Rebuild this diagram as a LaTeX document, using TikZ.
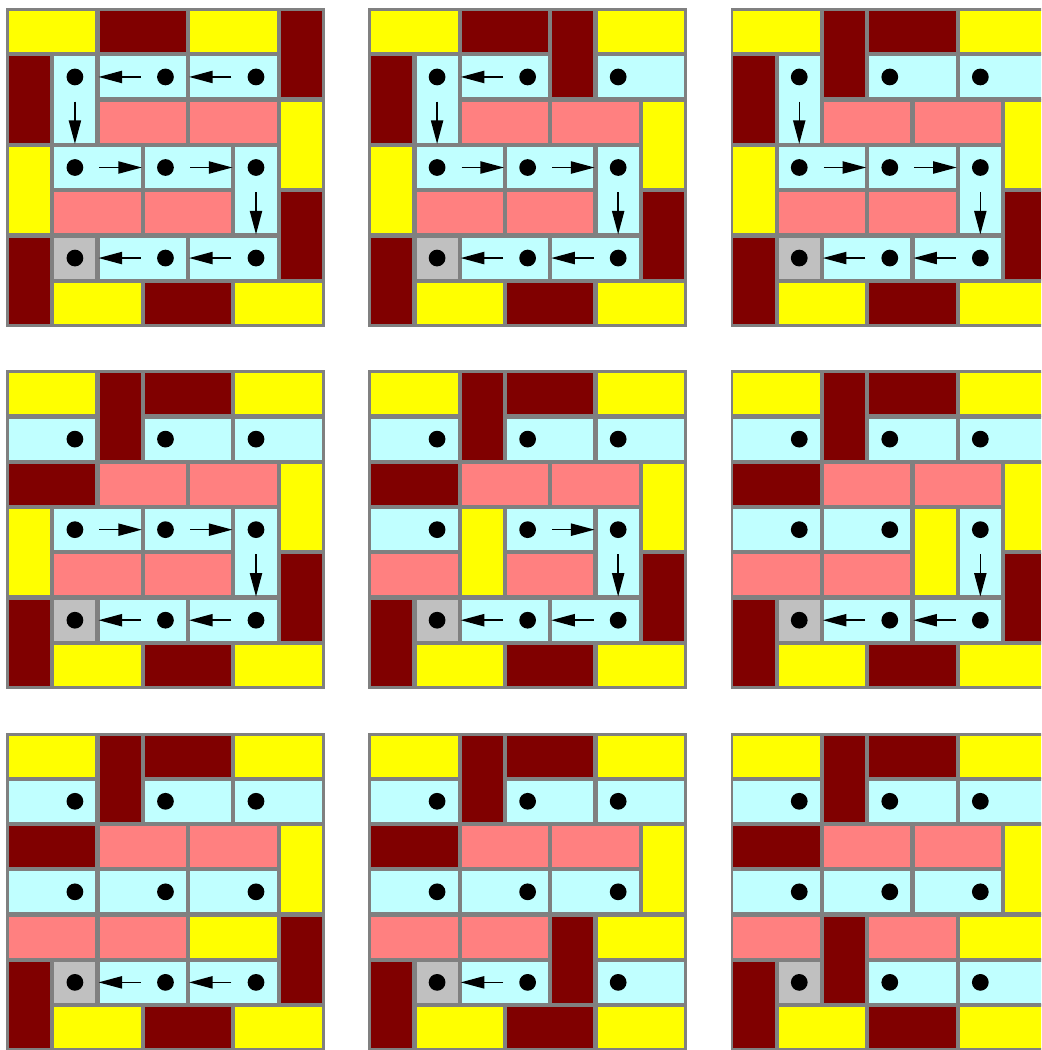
\documentclass[tikz,border=0pt]{standalone}
\usepackage{tikz}
\usetikzlibrary{arrows.meta}

\definecolor{yel}{HTML}{FFFF00}
\definecolor{mar}{HTML}{800000}
\definecolor{pnk}{HTML}{FF8080}
\definecolor{cyn}{HTML}{C0FFFF}
\definecolor{gry}{HTML}{C0C0C0}
\definecolor{tileline}{HTML}{808080}

\begin{document}
\begin{tikzpicture}[
      tile/.style={draw=tileline, line width=1.8pt, line join=miter},
      dot/.style={circle, fill=black, inner sep=0pt, minimum size=0.37cm},
      walk/.style={-{Triangle[length=0.52cm,width=0.27cm]}, line width=0.9pt, shorten <=0.35cm, shorten >=0.33cm}
    ]
      \useasboundingbox (-0.155,0.2) rectangle (22.841,-22.994);
      \clip (-0.155,0.2) rectangle (22.841,-22.994);

      % top row
      \begin{scope}[shift={(0,0)}]
        \foreach \st/\x/\y/\w/\h in {yel/0/0/2/1, mar/2/0/2/1, yel/4/0/2/1, mar/6/0/1/2,
            mar/0/1/1/2, cyn/1/1/1/2, cyn/2/1/2/1, cyn/4/1/2/1,
            pnk/2/2/2/1, pnk/4/2/2/1, yel/6/2/1/2,
            yel/0/3/1/2, cyn/1/3/2/1, cyn/3/3/2/1, cyn/5/3/1/2,
            pnk/1/4/2/1, pnk/3/4/2/1, mar/6/4/1/2,
            mar/0/5/1/2, gry/1/5/1/1, cyn/2/5/2/1, cyn/4/5/2/1,
            yel/1/6/2/1, mar/3/6/2/1, yel/5/6/2/1}
          \path[tile, fill=\st] (\x+0.015,-\y-0.015) rectangle (\x+\w-0.015,-\y-\h+0.015);
        \foreach \i in {1,3,5}
          \foreach \j in {1,3,5}
            \node[dot] (s1-\i\j) at (\j+0.5,-\i-0.5) {};
        \foreach \a/\b in {15/13, 13/11, 11/31, 31/33, 33/35, 35/55, 55/53, 53/51}
          \draw[walk] (s1-\a) -- (s1-\b);
      \end{scope}

      \begin{scope}[shift={(8,0)}]
        \foreach \st/\x/\y/\w/\h in {yel/0/0/2/1, mar/2/0/2/1, mar/4/0/1/2, yel/5/0/2/1,
            mar/0/1/1/2, cyn/1/1/1/2, cyn/2/1/2/1, cyn/5/1/2/1,
            pnk/2/2/2/1, pnk/4/2/2/1, yel/6/2/1/2,
            yel/0/3/1/2, cyn/1/3/2/1, cyn/3/3/2/1, cyn/5/3/1/2,
            pnk/1/4/2/1, pnk/3/4/2/1, mar/6/4/1/2,
            mar/0/5/1/2, gry/1/5/1/1, cyn/2/5/2/1, cyn/4/5/2/1,
            yel/1/6/2/1, mar/3/6/2/1, yel/5/6/2/1}
          \path[tile, fill=\st] (\x+0.015,-\y-0.015) rectangle (\x+\w-0.015,-\y-\h+0.015);
        \foreach \i in {1,3,5}
          \foreach \j in {1,3,5}
            \node[dot] (s2-\i\j) at (\j+0.5,-\i-0.5) {};
        \foreach \a/\b in {13/11, 11/31, 31/33, 33/35, 35/55, 55/53, 53/51}
          \draw[walk] (s2-\a) -- (s2-\b);
      \end{scope}

      \begin{scope}[shift={(16,0)}]
        \foreach \st/\x/\y/\w/\h in {yel/0/0/2/1, mar/2/0/1/2, mar/3/0/2/1, yel/5/0/2/1,
            mar/0/1/1/2, cyn/1/1/1/2, cyn/3/1/2/1, cyn/5/1/2/1,
            pnk/2/2/2/1, pnk/4/2/2/1, yel/6/2/1/2,
            yel/0/3/1/2, cyn/1/3/2/1, cyn/3/3/2/1, cyn/5/3/1/2,
            pnk/1/4/2/1, pnk/3/4/2/1, mar/6/4/1/2,
            mar/0/5/1/2, gry/1/5/1/1, cyn/2/5/2/1, cyn/4/5/2/1,
            yel/1/6/2/1, mar/3/6/2/1, yel/5/6/2/1}
          \path[tile, fill=\st] (\x+0.015,-\y-0.015) rectangle (\x+\w-0.015,-\y-\h+0.015);
        \foreach \i in {1,3,5}
          \foreach \j in {1,3,5}
            \node[dot] (s3-\i\j) at (\j+0.5,-\i-0.5) {};
        \foreach \a/\b in {11/31, 31/33, 33/35, 35/55, 55/53, 53/51}
          \draw[walk] (s3-\a) -- (s3-\b);
      \end{scope}

      % middle row
      \begin{scope}[shift={(0,-8)}]
        \foreach \st/\x/\y/\w/\h in {yel/0/0/2/1, mar/2/0/1/2, mar/3/0/2/1, yel/5/0/2/1,
            cyn/0/1/2/1, cyn/3/1/2/1, cyn/5/1/2/1,
            mar/0/2/2/1, pnk/2/2/2/1, pnk/4/2/2/1, yel/6/2/1/2,
            yel/0/3/1/2, cyn/1/3/2/1, cyn/3/3/2/1, cyn/5/3/1/2,
            pnk/1/4/2/1, pnk/3/4/2/1, mar/6/4/1/2,
            mar/0/5/1/2, gry/1/5/1/1, cyn/2/5/2/1, cyn/4/5/2/1,
            yel/1/6/2/1, mar/3/6/2/1, yel/5/6/2/1}
          \path[tile, fill=\st] (\x+0.015,-\y-0.015) rectangle (\x+\w-0.015,-\y-\h+0.015);
        \foreach \i in {1,3,5}
          \foreach \j in {1,3,5}
            \node[dot] (s4-\i\j) at (\j+0.5,-\i-0.5) {};
        \foreach \a/\b in {31/33, 33/35, 35/55, 55/53, 53/51}
          \draw[walk] (s4-\a) -- (s4-\b);
      \end{scope}

      \begin{scope}[shift={(8,-8)}]
        \foreach \st/\x/\y/\w/\h in {yel/0/0/2/1, mar/2/0/1/2, mar/3/0/2/1, yel/5/0/2/1,
            cyn/0/1/2/1, cyn/3/1/2/1, cyn/5/1/2/1,
            mar/0/2/2/1, pnk/2/2/2/1, pnk/4/2/2/1, yel/6/2/1/2,
            cyn/0/3/2/1, yel/2/3/1/2, cyn/3/3/2/1, cyn/5/3/1/2,
            pnk/0/4/2/1, pnk/3/4/2/1, mar/6/4/1/2,
            mar/0/5/1/2, gry/1/5/1/1, cyn/2/5/2/1, cyn/4/5/2/1,
            yel/1/6/2/1, mar/3/6/2/1, yel/5/6/2/1}
          \path[tile, fill=\st] (\x+0.015,-\y-0.015) rectangle (\x+\w-0.015,-\y-\h+0.015);
        \foreach \i in {1,3,5}
          \foreach \j in {1,3,5}
            \node[dot] (s5-\i\j) at (\j+0.5,-\i-0.5) {};
        \foreach \a/\b in {33/35, 35/55, 55/53, 53/51}
          \draw[walk] (s5-\a) -- (s5-\b);
      \end{scope}

      \begin{scope}[shift={(16,-8)}]
        \foreach \st/\x/\y/\w/\h in {yel/0/0/2/1, mar/2/0/1/2, mar/3/0/2/1, yel/5/0/2/1,
            cyn/0/1/2/1, cyn/3/1/2/1, cyn/5/1/2/1,
            mar/0/2/2/1, pnk/2/2/2/1, pnk/4/2/2/1, yel/6/2/1/2,
            cyn/0/3/2/1, cyn/2/3/2/1, yel/4/3/1/2, cyn/5/3/1/2,
            pnk/0/4/2/1, pnk/2/4/2/1, mar/6/4/1/2,
            mar/0/5/1/2, gry/1/5/1/1, cyn/2/5/2/1, cyn/4/5/2/1,
            yel/1/6/2/1, mar/3/6/2/1, yel/5/6/2/1}
          \path[tile, fill=\st] (\x+0.015,-\y-0.015) rectangle (\x+\w-0.015,-\y-\h+0.015);
        \foreach \i in {1,3,5}
          \foreach \j in {1,3,5}
            \node[dot] (s6-\i\j) at (\j+0.5,-\i-0.5) {};
        \foreach \a/\b in {35/55, 55/53, 53/51}
          \draw[walk] (s6-\a) -- (s6-\b);
      \end{scope}

      % bottom row
      \begin{scope}[shift={(0,-16)}]
        \foreach \st/\x/\y/\w/\h in {yel/0/0/2/1, mar/2/0/1/2, mar/3/0/2/1, yel/5/0/2/1,
            cyn/0/1/2/1, cyn/3/1/2/1, cyn/5/1/2/1,
            mar/0/2/2/1, pnk/2/2/2/1, pnk/4/2/2/1, yel/6/2/1/2,
            cyn/0/3/2/1, cyn/2/3/2/1, cyn/4/3/2/1,
            pnk/0/4/2/1, pnk/2/4/2/1, yel/4/4/2/1, mar/6/4/1/2,
            mar/0/5/1/2, gry/1/5/1/1, cyn/2/5/2/1, cyn/4/5/2/1,
            yel/1/6/2/1, mar/3/6/2/1, yel/5/6/2/1}
          \path[tile, fill=\st] (\x+0.015,-\y-0.015) rectangle (\x+\w-0.015,-\y-\h+0.015);
        \foreach \i in {1,3,5}
          \foreach \j in {1,3,5}
            \node[dot] (s7-\i\j) at (\j+0.5,-\i-0.5) {};
        \foreach \a/\b in {55/53, 53/51}
          \draw[walk] (s7-\a) -- (s7-\b);
      \end{scope}

      \begin{scope}[shift={(8,-16)}]
        \foreach \st/\x/\y/\w/\h in {yel/0/0/2/1, mar/2/0/1/2, mar/3/0/2/1, yel/5/0/2/1,
            cyn/0/1/2/1, cyn/3/1/2/1, cyn/5/1/2/1,
            mar/0/2/2/1, pnk/2/2/2/1, pnk/4/2/2/1, yel/6/2/1/2,
            cyn/0/3/2/1, cyn/2/3/2/1, cyn/4/3/2/1,
            pnk/0/4/2/1, pnk/2/4/2/1, mar/4/4/1/2, yel/5/4/2/1,
            mar/0/5/1/2, gry/1/5/1/1, cyn/2/5/2/1, cyn/5/5/2/1,
            yel/1/6/2/1, mar/3/6/2/1, yel/5/6/2/1}
          \path[tile, fill=\st] (\x+0.015,-\y-0.015) rectangle (\x+\w-0.015,-\y-\h+0.015);
        \foreach \i in {1,3,5}
          \foreach \j in {1,3,5}
            \node[dot] (s8-\i\j) at (\j+0.5,-\i-0.5) {};
        \draw[walk] (s8-53) -- (s8-51);
      \end{scope}

      \begin{scope}[shift={(16,-16)}]
        \foreach \st/\x/\y/\w/\h in {yel/0/0/2/1, mar/2/0/1/2, mar/3/0/2/1, yel/5/0/2/1,
            cyn/0/1/2/1, cyn/3/1/2/1, cyn/5/1/2/1,
            mar/0/2/2/1, pnk/2/2/2/1, pnk/4/2/2/1, yel/6/2/1/2,
            cyn/0/3/2/1, cyn/2/3/2/1, cyn/4/3/2/1,
            pnk/0/4/2/1, mar/2/4/1/2, pnk/3/4/2/1, yel/5/4/2/1,
            mar/0/5/1/2, gry/1/5/1/1, cyn/3/5/2/1, cyn/5/5/2/1,
            yel/1/6/2/1, mar/3/6/2/1, yel/5/6/2/1}
          \path[tile, fill=\st] (\x+0.015,-\y-0.015) rectangle (\x+\w-0.015,-\y-\h+0.015);
        \foreach \i in {1,3,5}
          \foreach \j in {1,3,5}
            \node[dot] (s9-\i\j) at (\j+0.5,-\i-0.5) {};
      \end{scope}
    \end{tikzpicture}
\end{document}
